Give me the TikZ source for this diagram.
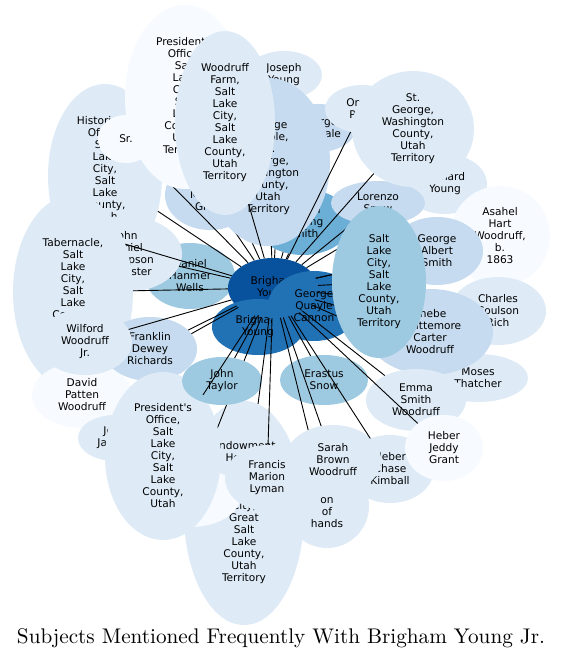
\documentclass[tikz,border=0pt]{standalone}
\usepackage{fontspec}
\usepackage{graphicx}
\newfontfamily\dvs{DejaVu Sans}
\usetikzlibrary{shapes.geometric}
\definecolor{bA}{HTML}{F7FBFF}
\definecolor{bB}{HTML}{DEEBF7}
\definecolor{bC}{HTML}{C6DBEF}
\definecolor{bD}{HTML}{9ECAE1}
\definecolor{bE}{HTML}{6BAED6}
\definecolor{bG}{HTML}{2171B5}
\definecolor{bH}{HTML}{08519C}
\newcommand\mkell[7]{\node[nd, fill=#6, minimum width=2*#4, minimum height=2*#5] (#1) at (#2,#3) {#7};}
\begin{document}
\begin{tikzpicture}[x=1pt,y=-1pt,
  nd/.style={ellipse, inner sep=0pt, align=center, text=black,
    font=\dvs\fontsize{10.6}{12}\selectfont},
  edge/.style={draw=black, line width=0.9pt}]
\useasboundingbox (0,0) rectangle (563,660);
\fill[white] (0,0) rectangle (563,660);
% base
\mkell{dhw}{190}{276}{45}{33}{bD}{Daniel\\Hanmer\\Wells}
\mkell{hub}{273}{288}{45}{30}{bH}{Brigham\\Young}
\mkell{lowby}{258}{327}{46}{28}{bG}{Brigham\\Young}
\mkell{gqc}{314}{306}{46}{35}{bG}{George\\Quayle\\Cannon}
% upper left
\mkell{hist}{105}{176}{57}{92}{bB}{Historian's\\Office,\\Salt\\Lake\\City,\\Salt\\Lake\\County,\\Utah\\Territory}
\mkell{sr}{126}{139}{28}{24}{bA}{Sr.}
\mkell{jed}{210}{195}{45}{35}{bC}{Jedediah\\Morgan\\Grant}
\draw[edge] (hub) -- (sr);
\mkell{prestop}{185}{97}{60}{92}{bA}{President's\\Office,\\Salt\\Lake\\City,\\Salt\\Lake\\County,\\Utah\\Territory}
\draw[edge] (hub) -- (prestop);
\draw[edge] (hub) -- (jed);
% top
\mkell{joseph}{284}{75}{38}{24}{bB}{Joseph\\Young}
\draw[edge] (hub) -- (joseph);
\mkell{teas}{318}{128}{38}{24}{bC}{George\\Teasdale}
\draw[edge] (hub) -- (teas);
\mkell{jfs}{303}{222}{48}{33}{bE}{Joseph\\Fielding\\Smith}
\mkell{temple}{268}{162}{62}{84}{bC}{St.\\George\\Temple,\\St.\\George,\\Washington\\County,\\Utah\\Territory}
\draw[edge] (hub) -- (temple);
\mkell{wf}{225}{123}{50}{92}{bB}{Woodruff\\Farm,\\Salt\\Lake\\City,\\Salt\\Lake\\County,\\Utah\\Territory}
\draw[edge] (hub) -- (wf);
\mkell{orson}{362}{109}{37}{24}{bB}{Orson\\Pratt}
% right
\mkell{ry}{445}{184}{42}{30}{bB}{Richard\\Young}
\draw[edge] (hub) -- (ry);
\mkell{asahel}{500}{236}{50}{50}{bA}{Asahel\\Hart\\Woodruff,\\b.\\1863}
\draw[edge] (hub) -- (asahel);
\mkell{gas}{437}{251}{46}{34}{bC}{George\\Albert\\Smith}
\draw[edge] (hub) -- (gas);
\mkell{lorenzo}{378}{203}{47}{22}{bC}{Lorenzo\\Snow}
\draw[edge] (hub) -- (lorenzo);
\mkell{ccr}{498}{311}{48}{34}{bB}{Charles\\Coulson\\Rich}
\draw[edge] (hub) -- (ccr);
\mkell{mt}{478}{378}{50}{24}{bB}{Moses\\Thatcher}
\draw[edge] (hub) -- (mt);
\mkell{phebe}{430}{332}{63}{43}{bC}{Phebe\\Whittemore\\Carter\\Woodruff}
\draw[edge] (hub) -- (phebe);
\mkell{slc}{379}{282}{47}{76}{bD}{Salt\\Lake\\City,\\Salt\\Lake\\County,\\Utah\\Territory}
\draw[edge] (hub) -- (slc);
\mkell{stg}{413}{129}{61}{58}{bB}{St.\\George,\\Washington\\County,\\Utah\\Territory}
\draw[edge] (hub) -- (stg);
\draw[edge] (hub) -- (orson);
\draw[edge] (hub) -- (jfs);
% left
\mkell{jdtm}{126}{254}{56}{38}{bB}{John\\Daniel\\Thompson\\McAllister}
\coordinate (bend) at (118,242);
\draw[edge] (hub) -- (bend);
\draw[edge] (hub) -- (jdtm);
\mkell{tab}{73}{292}{60}{97}{bB}{Tabernacle,\\Salt\\Lake\\City,\\Salt\\Lake\\County,\\Utah\\Territory}
\draw[edge] (hub) -- (tab);
\draw[edge] (hub) -- (hist);
\mkell{dpw}{82}{395}{50}{33}{bA}{David\\Patten\\Woodruff}
\draw[edge] (hub) -- (dpw);
\mkell{fdr}{150}{349}{47}{32}{bC}{Franklin\\Dewey\\Richards}
\draw[edge] (hub) -- (fdr);
\mkell{wwjr}{85}{342}{47}{33}{bB}{Wilford\\Woodruff\\Jr.}
\draw[edge] (hub) -- (wwjr);
% bottom
\mkell{jj}{115}{438}{37}{23}{bB}{John\\Jaques}
\mkell{endow}{244}{513}{60}{112}{bB}{Endowment\\House,\\Great\\Salt\\Lake\\City,\\Great\\Salt\\Lake\\County,\\Utah\\Territory}
\mkell{pale}{190}{497}{50}{30}{bA}{}
\draw[edge] (hub) -- (pale);
\mkell{presbot}{163}{456}{58}{84}{bB}{President's\\Office,\\Salt\\Lake\\City,\\Salt\\Lake\\County,\\Utah}
\mkell{jt}{222}{381}{40}{24}{bD}{John\\Taylor}
\draw[edge] (hub) -- (presbot);
\draw[edge] (hub) -- (jt);
\mkell{francis}{267}{478}{42}{33}{bB}{Francis\\Marion\\Lyman}
\draw[edge] (hub) -- (endow);
\draw[edge] (hub) -- (francis);
\mkell{es}{324}{380}{44}{25}{bD}{Erastus\\Snow}
\mkell{laying}{327}{506}{42}{42}{bB}{Laying\\on\\of\\hands}
\mkell{hck}{390}{469}{44}{34}{bB}{Heber\\Chase\\Kimball}
\draw[edge] (hub) -- (laying);
\mkell{sbw}{333}{460}{48}{35}{bB}{Sarah\\Brown\\Woodruff}
\draw[edge] (hub) -- (sbw);
\draw[edge] (hub) -- (hck);
\draw[edge] (hub) -- (es);
\mkell{emma}{416}{400}{50}{31}{bB}{Emma\\Smith\\Woodruff}
\draw[edge] (hub) -- (emma);
\mkell{hjg}{444}{448}{39}{33}{bA}{Heber\\Jeddy\\Grant}
\draw[edge] (hub) -- (hjg);
% title
\node (title) at (281,638) {\resizebox{528pt}{!}{Subjects Mentioned Frequently With Brigham Young Jr.}};
\end{tikzpicture}
\end{document}
